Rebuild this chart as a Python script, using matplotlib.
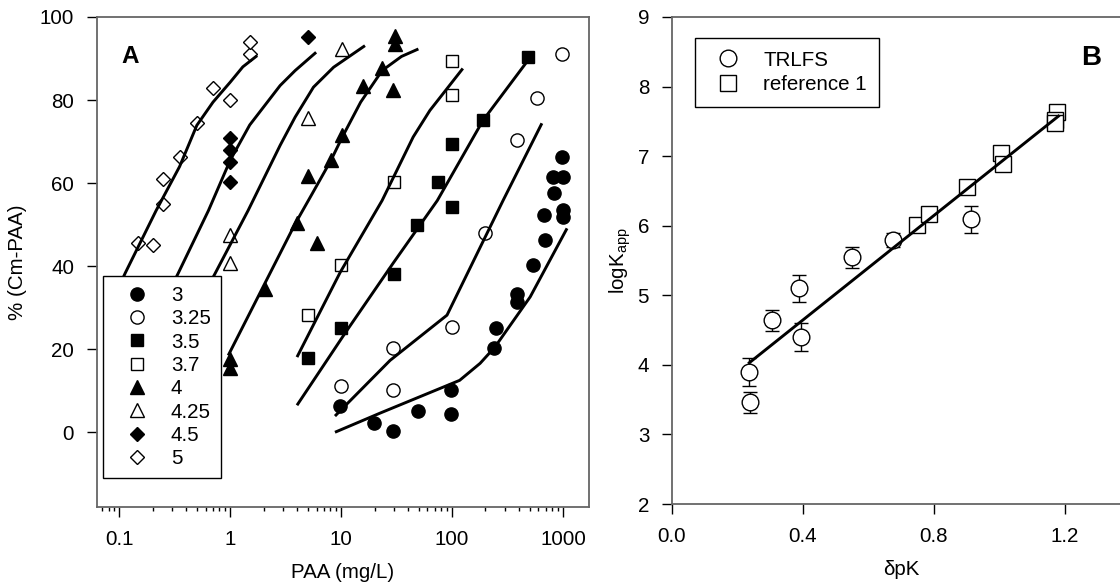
import matplotlib
matplotlib.use("Agg")
import matplotlib.pyplot as plt
from matplotlib.ticker import LogLocator, NullFormatter

plt.rcParams["font.family"] = ["Liberation Sans", "DejaVu Sans"]
plt.rcParams["mathtext.default"] = "regular"

# ---- panel A: % Cm-PAA vs PAA concentration, one series per pH ----
ph_labels = ["3", "3.25", "3.5", "3.7", "4", "4.25", "4.5", "5"]

pts_3_x = [9.8, 19.8, 29.4, 49.4, 98, 98, 239, 250, 385, 385, 537, 690, 680, 830, 810, 1000, 980, 990, 990]
pts_3_y = [6.3, 2.2, 0.2, 5.1, 4.3, 10.1, 20.2, 25, 31.3, 33.4, 40.2, 46.2, 52.2, 57.5, 61.4, 61.4, 66.4, 53.6, 51.8]
pts_325_x = [10, 29.4, 29.4, 100, 198, 385, 580, 980]
pts_325_y = [11.1, 10.1, 20.2, 25.3, 48.1, 70.3, 80.4, 91.2]
pts_35_x = [5.04, 10, 30, 48.4, 100, 100, 74.6, 190, 484]
pts_35_y = [18, 25, 38, 50, 54.2, 69.3, 60.2, 75.3, 90.3]
pts_37_x = [5.04, 10, 30, 100, 100]
pts_37_y = [28.2, 40.2, 60.2, 81.1, 89.3]
pts_4_x = [1.0, 1.0, 2.07, 4.0, 6.07, 5.04, 8.1, 10.2, 15.8, 23.4, 29.4, 30.6, 30.6]
pts_4_y = [17.6, 15.4, 34.4, 50.3, 45.5, 61.6, 65.5, 71.5, 83.3, 87.6, 82.5, 93.6, 95.5]
pts_425_x = [1.0, 1.0, 5.04, 10.2]
pts_425_y = [47.4, 40.7, 75.6, 92.4]
pts_45_x = [1.0, 1.0, 1.0, 1.0, 5.04]
pts_45_y = [70.8, 67.9, 65.2, 60.2, 95.3]
pts_5_x = [0.148, 0.202, 0.249, 0.249, 0.354, 0.504, 0.703, 1.0, 1.51, 1.51]
pts_5_y = [45.5, 45.2, 54.9, 61.1, 66.2, 74.4, 83.0, 80.1, 91.2, 94.1]

fit_3_x = [8.8, 22.4, 117, 179, 243, 506, 1087]
fit_3_y = [0, 4.6, 12.5, 16.6, 20.5, 32.6, 49.1]
fit_325_x = [8.8, 27.6, 90, 288, 645]
fit_325_y = [3.9, 17.3, 28.2, 55.8, 74.4]
fit_35_x = [4.0, 11, 29.4, 73.6, 190, 537]
fit_35_y = [6.5, 24.1, 40.7, 55.8, 75.1, 91.2]
fit_37_x = [4.0, 9.8, 23.4, 44.6, 63.1, 125]
fit_37_y = [18.1, 38.5, 55.8, 71.1, 77.5, 87.6]
fit_4_x = [0.96, 3.85, 5.5, 8.1, 10.2, 15, 23.4, 35, 49.7]
fit_4_y = [18.5, 50.2, 57.5, 65.5, 71, 79.5, 87.1, 90.5, 92.3]
fit_425_x = [0.55, 0.733, 1.45, 2.82, 3.85, 5.63, 8.55, 16.4]
fit_425_y = [32, 38.3, 53.4, 69.1, 75.9, 83.1, 87.9, 93.1]
fit_45_x = [0.25, 0.34, 0.637, 1.0, 1.5, 2.82, 3.85, 5.95]
fit_45_y = [31, 38.3, 53.4, 65.5, 74, 83.5, 87.1, 91.5]
fit_5_x = [0.085, 0.113, 0.215, 0.35, 0.5, 0.7, 1.0, 1.3, 1.75]
fit_5_y = [31, 38.3, 53.4, 64, 73.9, 79.5, 84.3, 88, 90.7]

# ---- panel B: logK_app vs dpK ----
trlfs_x = [0.236, 0.238, 0.306, 0.393, 0.388, 0.551, 0.676, 0.912]
trlfs_y = [3.90, 3.46, 4.64, 4.40, 5.10, 5.545, 5.80, 6.09]
trlfs_err = [0.2, 0.15, 0.15, 0.2, 0.19, 0.15, 0.1, 0.2]
ref1_x = [0.747, 0.786, 0.90, 1.005, 1.012, 1.175, 1.168, 1.17]
ref1_y = [6.01, 6.17, 6.55, 7.05, 6.89, 7.64, 7.52, 7.48]
line_x = [0.236, 1.18]
line_y = [4.03, 7.575]

FS = 14.8
SPINE = "#666666"

fig = plt.figure(figsize=(11.2, 5.85), dpi=100)
ax1 = fig.add_axes([97 / 1120, 78 / 585, 492 / 1120, 490 / 585])
ax2 = fig.add_axes([672 / 1120, 81 / 585, 458.5 / 1120, 487 / 585])

series = [
    (pts_3_x, pts_3_y, "o", "black", 9.5),
    (pts_325_x, pts_325_y, "o", "white", 9.5),
    (pts_35_x, pts_35_y, "s", "black", 8.5),
    (pts_37_x, pts_37_y, "s", "white", 8.5),
    (pts_4_x, pts_4_y, "^", "black", 10),
    (pts_425_x, pts_425_y, "^", "white", 10),
    (pts_45_x, pts_45_y, "D", "black", 7.5),
    (pts_5_x, pts_5_y, "D", "white", 7.5),
]
for (xs, ys, mk, fc, ms), lab in zip(series, ph_labels):
    ax1.plot(xs, ys, ls="none", marker=mk, mfc=fc, mec="black", mew=1,
             ms=ms, label=lab, zorder=2)

fits = [(fit_3_x, fit_3_y), (fit_325_x, fit_325_y), (fit_35_x, fit_35_y),
        (fit_37_x, fit_37_y), (fit_4_x, fit_4_y), (fit_425_x, fit_425_y),
        (fit_45_x, fit_45_y), (fit_5_x, fit_5_y)]
for fx, fy in fits:
    ax1.plot(fx, fy, color="black", lw=2.1, zorder=3, solid_capstyle="butt",
             solid_joinstyle="round")

ax1.set_xscale("log")
ax1.set_xlim(0.063, 1715)
ax1.set_ylim(-18, 100)
ax1.set_xticks([0.1, 1, 10, 100, 1000])
ax1.set_xticklabels(["0.1", "1", "10", "100", "1000"])
ax1.xaxis.set_minor_locator(LogLocator(base=10, subs=range(2, 10)))
ax1.xaxis.set_minor_formatter(NullFormatter())
ax1.set_yticks([0, 20, 40, 60, 80, 100])
ax1.set_xlabel("PAA (mg/L)", fontsize=FS, labelpad=10)
ax1.set_ylabel("% (Cm-PAA)", fontsize=FS, labelpad=9)
ax1.text(0.049, 0.919, "A", transform=ax1.transAxes, fontsize=17.5,
         fontweight="bold", va="center", ha="left")

leg1 = ax1.legend(loc="upper left", bbox_to_anchor=(0.012, 0.4715),
                  borderaxespad=0, frameon=True, fancybox=False, framealpha=1,
                  edgecolor="black", fontsize=FS, borderpad=0.49,
                  handlelength=2.34, handletextpad=0.48, labelspacing=0.21)
leg1.get_frame().set_linewidth(1.0)
leg1.set_zorder(5)

# panel B
ax2.errorbar(trlfs_x, trlfs_y, yerr=trlfs_err, fmt="none", ecolor="black",
             elinewidth=1, capsize=5, capthick=1, zorder=2)
ax2.plot(trlfs_x, trlfs_y, ls="none", marker="o", mfc="white", mec="black",
         mew=1, ms=12, label="TRLFS", zorder=3)
ax2.plot(ref1_x, ref1_y, ls="none", marker="s", mfc="white", mec="black",
         mew=1, ms=11, label="reference 1", zorder=3)
ax2.plot(line_x, line_y, color="black", lw=2.1, zorder=4)

ax2.set_xlim(0, 1.4)
ax2.set_ylim(2, 9)
ax2.set_xticks([0.0, 0.4, 0.8, 1.2])
ax2.set_xticklabels(["0.0", "0.4", "0.8", "1.2"])
ax2.set_yticks(range(2, 10))
ax2.set_xlabel("δpK", fontsize=FS, labelpad=10)
ax2.set_ylabel("logK$_{app}$", fontsize=FS, labelpad=3)
ax2.text(0.915, 0.915, "B", transform=ax2.transAxes, fontsize=20,
         fontweight="bold", va="center", ha="center")

leg2 = ax2.legend(loc="upper left", bbox_to_anchor=(0.0502, 0.957),
                  borderaxespad=0, frameon=True, fancybox=False, framealpha=1,
                  edgecolor="black", fontsize=FS, borderpad=0.62,
                  handlelength=1.98, handletextpad=0.71, labelspacing=0.25)
leg2.get_frame().set_linewidth(1.0)

for ax in (ax1, ax2):
    for sp in ax.spines.values():
        sp.set_color(SPINE)
        sp.set_linewidth(1.3)
    ax.tick_params(which="major", direction="out", length=7.5, width=1,
                   colors="black", labelsize=FS, pad=9)
    ax.tick_params(which="minor", direction="out", length=3, width=1)

fig.savefig("out.png", dpi=100)
